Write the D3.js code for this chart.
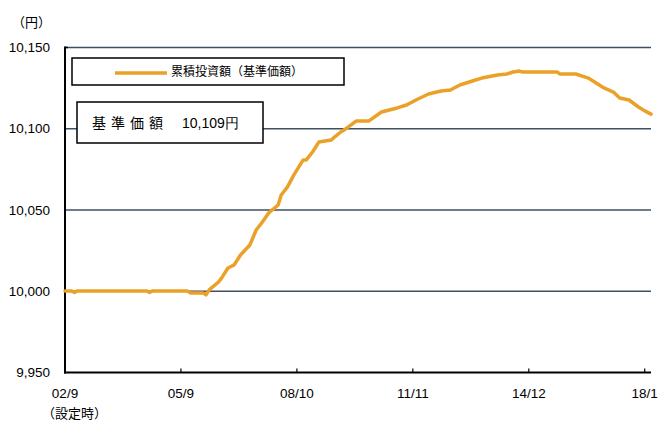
<!DOCTYPE html>
<html><head><meta charset="utf-8">
<script src="https://cdn.jsdelivr.net/npm/d3@7"></script>
<style>
html,body{margin:0;padding:0;background:#fff;}
svg{display:block;}
</style></head>
<body>
<svg id="c" width="661" height="423"></svg>
<script>
// month index from 2002/9 (設定時)
const monthIdx = [0,2,3,4,26,27,28,39,40,44,45,46,49,50,52,54,56,59,61,63,65,68,69,71,73,76,77,79,81,85,86,88,90,93,97,101,106,109,112,116,120,123,126,130,133,138,141,143,145,146,157,158,163,167,169,172,175,177,180,183,185,187];
const navValues = [10000.2,10000.2,9999.3,10000.2,10000.2,9999.3,10000.2,10000.2,9999,9999,9997.8,10000.8,10005.7,10008.2,10014.3,10016.2,10022.3,10028.5,10037.7,10042.6,10048.2,10053.1,10059.2,10064.2,10071.5,10080.8,10080.8,10085.7,10091.8,10093.1,10094.9,10098,10100.5,10104.8,10104.8,10110.3,10112.8,10114.6,10117.7,10121.4,10123.2,10123.8,10126.9,10129.4,10131.2,10133.1,10133.7,10134.9,10135.5,10134.9,10134.9,10133.7,10133.7,10131.2,10128.8,10125.1,10122.6,10118.9,10117.7,10113.4,10111,10109];
const xTickIdx = [0,37,74,111,148,185];
const xTickLabels = ["02/9","05/9","08/10","11/11","14/12","18/1"];
const yTicks = [9950,10000,10050,10100,10150];
const seriesName = "累積投資額（基準価額）";
const navLabel = "基準価額";
const navText = "10,109円";
const unitLabel = "（円）";
const startLabel = "（設定時）";

const svg = d3.select("#c");
const L = 65, R = 651, T = 47.5, B = 372.5;
const x = d3.scaleLinear().domain([0,187]).range([L,R]);
const y = d3.scaleLinear().domain([9950,10150]).range([B,T]);
const fmt = d3.format(",");
const jp = "'Noto Sans CJK JP', sans-serif";
const lat = "'Liberation Sans', Arial, sans-serif";

// gridlines
svg.append("g").selectAll("line").data(yTicks.filter(d=>d>9950)).join("line")
  .attr("x1",L).attr("x2",R).attr("y1",d=>y(d)).attr("y2",d=>y(d))
  .attr("stroke","#3f5060").attr("stroke-width",1.6);

// y labels
svg.append("g").selectAll("text").data(yTicks).join("text")
  .attr("x",50).attr("y",d=>y(d)).attr("dy","0.35em").attr("text-anchor","end")
  .attr("font-family",lat).attr("font-size",13.5).attr("fill","#000").text(d=>fmt(d));

// axes
svg.append("line").attr("x1",L).attr("x2",L).attr("y1",T-1).attr("y2",B+1)
  .attr("stroke","#000").attr("stroke-width",2);
svg.append("line").attr("x1",L-1).attr("x2",R).attr("y1",B).attr("y2",B)
  .attr("stroke","#000").attr("stroke-width",2);
svg.append("line").attr("x1",L).attr("x2",L+3).attr("y1",T).attr("y2",T)
  .attr("stroke","#000").attr("stroke-width",1.5);

// x ticks
svg.append("g").selectAll("line").data(xTickIdx).join("line")
  .attr("x1",d=>x(d)).attr("x2",d=>x(d)).attr("y1",B).attr("y2",B-4)
  .attr("stroke","#000").attr("stroke-width",1.2);
svg.append("g").selectAll("text").data(xTickIdx).join("text")
  .attr("x",d=>x(d)).attr("y",393).attr("dy","0.35em").attr("text-anchor","middle")
  .attr("font-family",lat).attr("font-size",13.5).attr("fill","#000")
  .text((d,i)=>xTickLabels[i]);

svg.append("text").attr("x",12).attr("y",22).attr("dy","0.35em")
  .attr("font-family",jp).attr("font-size",13).text(unitLabel);
svg.append("text").attr("x",42).attr("y",413).attr("dy","0.35em")
  .attr("font-family",jp).attr("font-size",13).text(startLabel);

// line
const pts = monthIdx.map((m,i)=>[m,navValues[i]]);
svg.append("path").datum(pts)
  .attr("fill","none").attr("stroke","#eba128").attr("stroke-width",3.5)
  .attr("stroke-linejoin","round").attr("stroke-linecap","round")
  .attr("d",d3.line().x(d=>x(d[0])).y(d=>y(d[1])));

// legend box
svg.append("rect").attr("x",72).attr("y",58).attr("width",272).attr("height",27)
  .attr("fill","#fff").attr("stroke","#000").attr("stroke-width",1.5);
svg.append("line").attr("x1",115).attr("x2",167).attr("y1",73).attr("y2",73)
  .attr("stroke","#eba128").attr("stroke-width",3.5);
svg.append("text").attr("x",171).attr("y",72).attr("dy","0.35em")
  .attr("font-family",jp).attr("font-size",12).attr("fill","#000").text(seriesName);

// NAV box
svg.append("rect").attr("x",77).attr("y",102).attr("width",186).attr("height",41)
  .attr("fill","#fff").attr("stroke","#000").attr("stroke-width",1.5);
svg.append("text").attr("x",92).attr("y",123).attr("dy","0.35em")
  .attr("font-family",jp).attr("font-size",14).attr("letter-spacing","5px").text(navLabel);
svg.append("text").attr("x",182).attr("y",123).attr("dy","0.35em")
  .attr("font-family",lat).attr("font-size",14).text(navText);
</script>
</body></html>
